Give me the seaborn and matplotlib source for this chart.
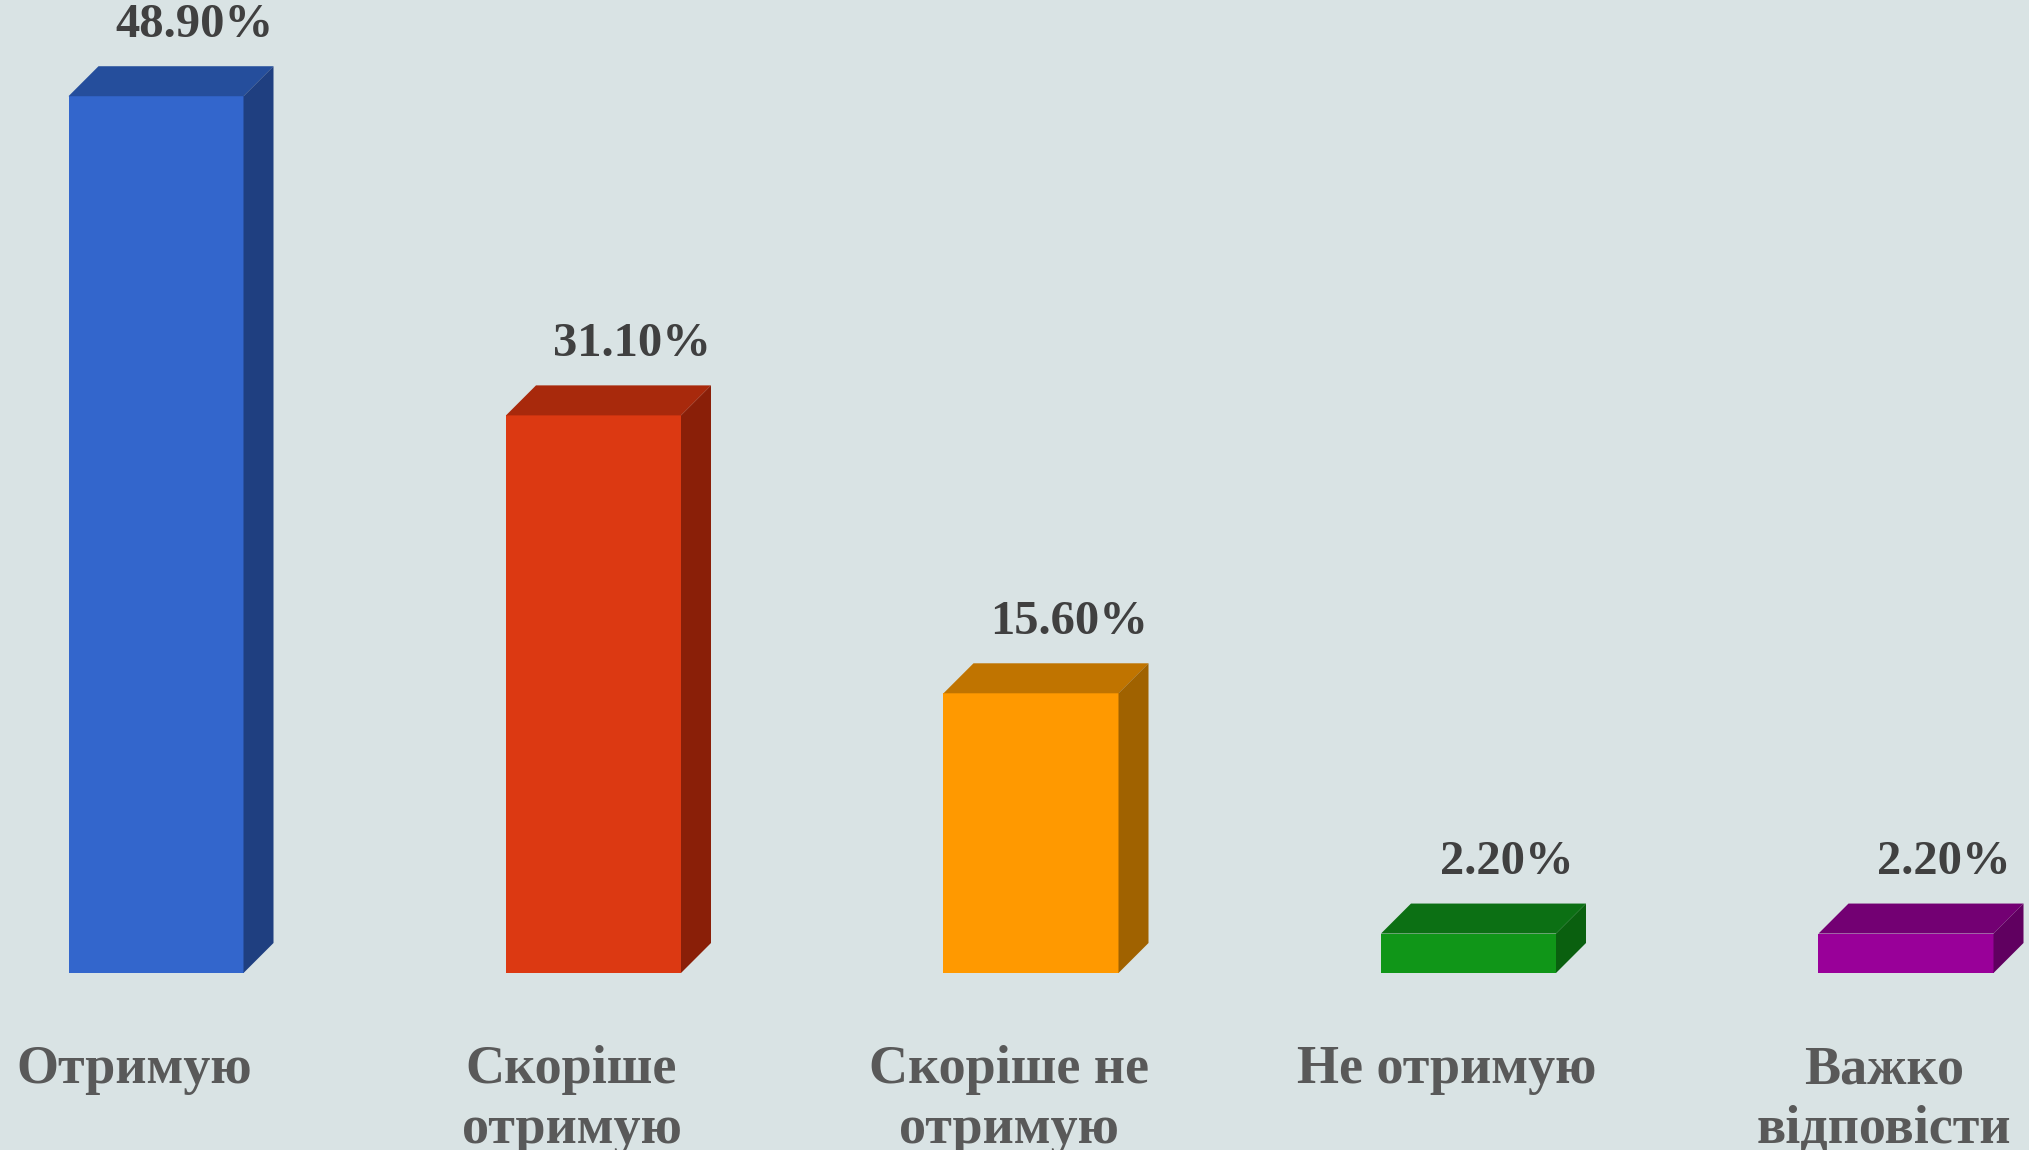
import matplotlib
matplotlib.use('Agg')
import matplotlib.pyplot as plt
from matplotlib.patches import Polygon
import seaborn as sns
import pandas as pd

# data
categories = ['Отримую', 'Скоріше\nотримую', 'Скоріше не\nотримую', 'Не отримую', 'Важко\nвідповісти']
values = [48.9, 31.1, 15.6, 2.2, 2.2]
front_colors = ['#3366CC', '#DC3912', '#FF9900', '#109618', '#990099']
top_colors = ['#254E9C', '#A8290C', '#C07400', '#0C7014', '#730073']
side_colors = ['#1F3F80', '#8A1F08', '#A06200', '#0A600F', '#600060']

bg = '#D9E3E4'
sns.set_theme(style='white')
plt.rcParams['font.family'] = ['Liberation Serif', 'DejaVu Serif']

df = pd.DataFrame({'cat': categories, 'val': values})

fig = plt.figure(figsize=(20.29, 11.5), dpi=100)
fig.patch.set_facecolor(bg)
ax = fig.add_axes([0, 0, 1, 1])
ax.set_facecolor(bg)

sns.barplot(data=df, x='cat', y='val', hue='cat', palette=front_colors,
            width=0.4, legend=False, ax=ax, saturation=1, zorder=3,
            linewidth=0, edgecolor='none')

# axis scaling: 437.5 px per category, 17.93 px per percent
ppu_x, ppu_y = 437.5, 17.93
ax.set_xlim(-156 / ppu_x, (2029 - 156) / ppu_x)
ax.set_ylim(-177 / ppu_y, (1150 - 177) / ppu_y)
ax.axis('off')

# 3d depth (about 30 px each way)
dx = 30 / ppu_x
dy = 30 / ppu_y

for i, p in enumerate(ax.patches[:len(values)]):
    x0 = p.get_x()
    x1 = x0 + p.get_width()
    h = p.get_height()
    top = Polygon([(x0, h), (x0 + dx, h + dy), (x1 + dx, h + dy), (x1, h)],
                  closed=True, facecolor=top_colors[i], edgecolor='none', zorder=3)
    side = Polygon([(x1, 0), (x1, h), (x1 + dx, h + dy), (x1 + dx, dy)],
                   closed=True, facecolor=side_colors[i], edgecolor='none', zorder=3)
    ax.add_patch(top)
    ax.add_patch(side)
    ax.annotate(f'{values[i]:.2f}%', xy=(i + 38 / ppu_x, h + dy), xytext=(0, 21),
                textcoords='offset points', ha='center', va='baseline',
                fontsize=35, fontweight='bold', color='#404040')

# category labels, one text per line so the first baselines line up
line_y = [(67 - 177) / ppu_y, (7 - 177) / ppu_y]
for i, c in enumerate(categories):
    for j, line in enumerate(c.split('\n')):
        ax.text(i - 22 / ppu_x, line_y[j], line, ha='center', va='baseline',
                fontsize=39, fontweight='bold', color='#595959')

fig.savefig('out.png', dpi=100, facecolor=bg)
